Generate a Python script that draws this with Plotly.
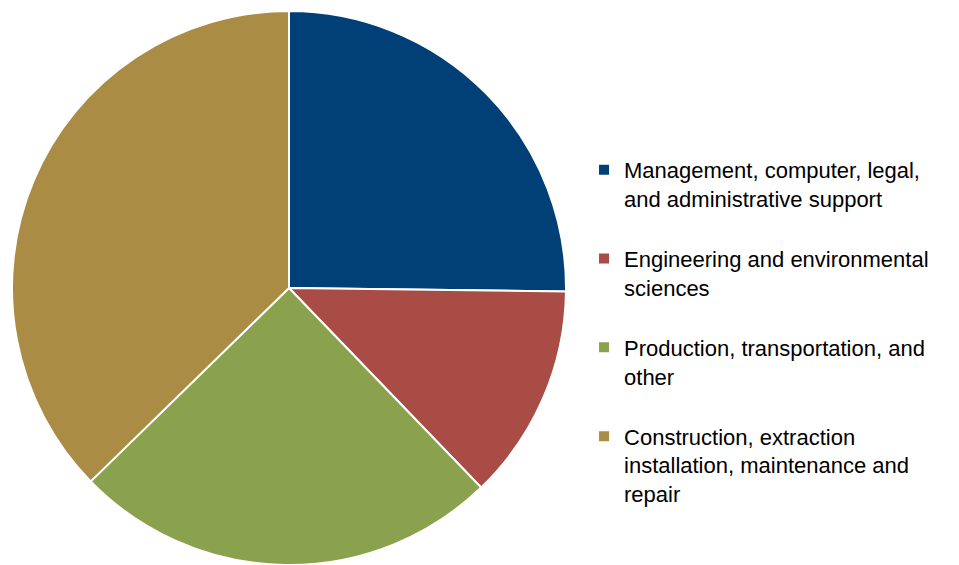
import plotly.graph_objects as go

# Employment shares by occupation group
categories = [
    "Management, computer, legal,<br>and administrative support<br> ",
    "Engineering and environmental<br>sciences<br> ",
    "Production, transportation, and<br>other<br> ",
    "Construction, extraction<br>installation, maintenance and<br>repair",
]
shares = [25.2, 12.6, 24.9, 37.3]
colors = ["#004077", "#A84C45", "#8AA24E", "#AB8C45"]

W, H = 959, 565
cx, r = 289, 278

fig = go.Figure(
    go.Pie(
        labels=categories,
        values=shares,
        sort=False,
        direction="clockwise",
        rotation=0,
        textinfo="none",
        hoverinfo="percent",
        marker=dict(colors=colors, line=dict(color="white", width=2)),
        domain=dict(x=[(cx - r) / W, (cx + r) / W], y=[0, 1]),
    )
)

fig.update_layout(
    width=W,
    height=H,
    margin=dict(l=0, r=0, t=11, b=0),
    paper_bgcolor="white",
    plot_bgcolor="white",
    showlegend=True,
    legend=dict(
        x=0.609,
        y=0.751,
        xanchor="left",
        yanchor="top",
        valign="top",
        font=dict(family="Liberation Sans, Arial, sans-serif", size=22, color="#000000"),
        bgcolor="rgba(0,0,0,0)",
    ),
)

fig.write_html("out.html")
